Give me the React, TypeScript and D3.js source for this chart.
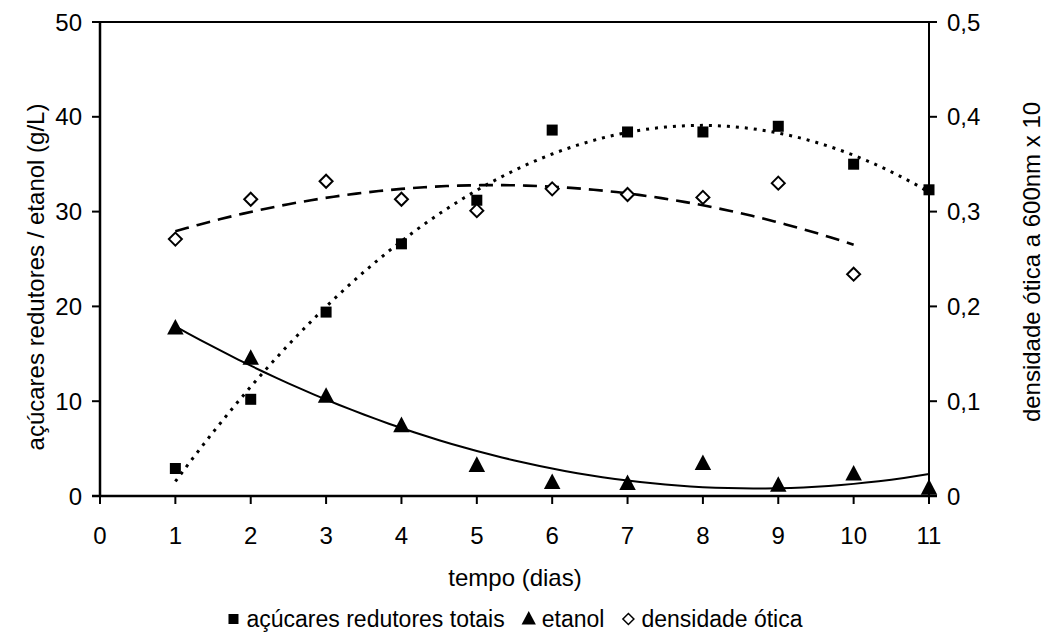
import React from "react";
import * as d3 from "d3";

// Fermentation time course: reducing sugars, ethanol (left axis, g/L) and optical density (right axis)
const dias = [1, 2, 3, 4, 5, 6, 7, 8, 9, 10, 11];
const acucares = [2.9, 10.2, 19.4, 26.6, 31.2, 38.6, 38.4, 38.4, 39.0, 35.0, 32.3];
const etanol = [17.7, 14.5, 10.5, 7.4, 3.2, 1.4, 1.3, 3.4, 1.1, 2.3, 0.8];
const diasDensidade = [1, 2, 3, 4, 5, 6, 7, 8, 9, 10];
const densidade = [0.271, 0.313, 0.332, 0.313, 0.301, 0.324, 0.318, 0.315, 0.330, 0.234];

const xTicks = [0, 1, 2, 3, 4, 5, 6, 7, 8, 9, 10, 11];
const yLeftTicks = [0, 10, 20, 30, 40, 50];
const yRightTicks = [0, 0.1, 0.2, 0.3, 0.4, 0.5];

const legendLabels = ["açúcares redutores totais", "etanol", "densidade ótica"];

const W = 1051;
const H = 640;
const M = { left: 100, right: 929, top: 22, bottom: 496 };
const FONT = "'Liberation Sans', Arial, sans-serif";
const FS = 24;
const LEGEND_FS = 23;

// Least-squares polynomial (order 2) trendline
function polyFit2(xs: number[], ys: number[]) {
  const n = xs.length;
  let s1 = 0, s2 = 0, s3 = 0, s4 = 0, t0 = 0, t1 = 0, t2 = 0;
  for (let i = 0; i < n; i++) {
    const x = xs[i], y = ys[i];
    s1 += x; s2 += x * x; s3 += x * x * x; s4 += x * x * x * x;
    t0 += y; t1 += x * y; t2 += x * x * y;
  }
  const A = [
    [n, s1, s2, t0],
    [s1, s2, s3, t1],
    [s2, s3, s4, t2],
  ];
  for (let c = 0; c < 3; c++) {
    let p = c;
    for (let r = c + 1; r < 3; r++) if (Math.abs(A[r][c]) > Math.abs(A[p][c])) p = r;
    [A[c], A[p]] = [A[p], A[c]];
    for (let r = 0; r < 3; r++) {
      if (r === c) continue;
      const f = A[r][c] / A[c][c];
      for (let k = c; k < 4; k++) A[r][k] -= f * A[c][k];
    }
  }
  const a0 = A[0][3] / A[0][0], a1 = A[1][3] / A[1][1], a2 = A[2][3] / A[2][2];
  return (x: number) => a0 + a1 * x + a2 * x * x;
}

function trendPoints(xs: number[], ys: number[]) {
  const f = polyFit2(xs, ys);
  const x0 = xs[0], x1 = xs[xs.length - 1];
  return d3.range(0, 61).map((i) => {
    const x = x0 + ((x1 - x0) * i) / 60;
    return [x, f(x)] as [number, number];
  });
}

function measure(text: string, size: number) {
  const c = document.createElement("canvas").getContext("2d");
  if (!c) return text.length * size * 0.5;
  c.font = `${size}px 'Liberation Sans', Arial, sans-serif`;
  return c.measureText(text).width;
}

const fmtRight = (v: number) => (v === 0 ? "0" : v.toFixed(1).replace(".", ","));

export default function App() {
  const x = d3.scaleLinear().domain([0, 11]).range([M.left, M.right]);
  const yL = d3.scaleLinear().domain([0, 50]).range([M.bottom, M.top]);
  const yR = d3.scaleLinear().domain([0, 0.5]).range([M.bottom, M.top]);

  const lineL = d3.line<[number, number]>().x((d) => x(d[0])).y((d) => yL(d[1]));
  const lineR = d3.line<[number, number]>().x((d) => x(d[0])).y((d) => yR(d[1]));

  const trendAcucares = trendPoints(dias, acucares);
  const trendEtanol = trendPoints(dias, etanol);
  const trendDensidade = trendPoints(diasDensidade, densidade);

  const sq = 11;
  const tri = (cx: number, cy: number, s: number) =>
    `M${cx},${cy - s * 0.62}L${cx + s * 0.55},${cy + s * 0.42}L${cx - s * 0.55},${cy + s * 0.42}Z`;
  const dia = (cx: number, cy: number, s: number) =>
    `M${cx},${cy - s}L${cx + s},${cy}L${cx},${cy + s}L${cx - s},${cy}Z`;

  // legend layout: symbol, gap, label, spacing — centred under the plot
  const legendY = 627;
  const symW = 12, symGap = 7, itemGap = 18;
  const widths = legendLabels.map((t) => measure(t, LEGEND_FS));
  const total = widths.reduce((s, w) => s + w, 0) + legendLabels.length * (symW + symGap) + itemGap * (legendLabels.length - 1);
  let cursor = 515 - total / 2;
  const legendItems = legendLabels.map((label, i) => {
    const sx = cursor + symW / 2;
    const tx = cursor + symW + symGap;
    cursor = tx + widths[i] + itemGap;
    return { label, sx, tx, i };
  });

  return (
    <svg width={W} height={H} style={{ position: "absolute", left: 0, top: 0, background: "#fff" }}>
      <rect width={W} height={H} fill="#fff" />

      {/* trendlines */}
      <path d={lineL(trendAcucares) || ""} fill="none" stroke="#000" strokeWidth={3} strokeDasharray="3,6" />
      <path d={lineL(trendEtanol) || ""} fill="none" stroke="#000" strokeWidth={2} />
      <path d={lineR(trendDensidade) || ""} fill="none" stroke="#000" strokeWidth={2.6} strokeDasharray="14,8" />

      {/* axes frame */}
      <line x1={M.left} x2={M.right} y1={M.top} y2={M.top} stroke="#000" strokeWidth={2} />
      <line x1={M.right} x2={M.right} y1={M.top} y2={M.bottom} stroke="#000" strokeWidth={2} />
      <line x1={M.left} x2={M.left} y1={M.top} y2={M.bottom} stroke="#000" strokeWidth={2.5} />
      <line x1={M.left - 8} x2={M.right + 8} y1={M.bottom} y2={M.bottom} stroke="#000" strokeWidth={2.5} />

      {xTicks.map((t) => (
        <g key={"x" + t}>
          <line x1={x(t)} x2={x(t)} y1={M.bottom} y2={M.bottom + 8} stroke="#000" strokeWidth={2} />
          <text x={x(t)} y={544} textAnchor="middle" fontFamily={FONT} fontSize={FS}>{t}</text>
        </g>
      ))}
      {yLeftTicks.map((t) => (
        <g key={"yl" + t}>
          <line x1={M.left - 8} x2={M.left} y1={yL(t)} y2={yL(t)} stroke="#000" strokeWidth={2} />
          <text x={82} y={yL(t) + 8.5} textAnchor="end" fontFamily={FONT} fontSize={FS}>{t}</text>
        </g>
      ))}
      {yRightTicks.map((t) => (
        <g key={"yr" + t}>
          <line x1={M.right} x2={M.right + 8} y1={yR(t)} y2={yR(t)} stroke="#000" strokeWidth={2} />
          <text x={947} y={yR(t) + 8.5} textAnchor="start" fontFamily={FONT} fontSize={FS}>{fmtRight(t)}</text>
        </g>
      ))}

      {/* markers */}
      {dias.map((d, i) => (
        <rect key={"a" + i} x={x(d) - sq / 2} y={yL(acucares[i]) - sq / 2} width={sq} height={sq} fill="#000" />
      ))}
      {dias.map((d, i) => (
        <path key={"e" + i} d={tri(x(d), yL(etanol[i]), 15)} fill="#000" />
      ))}
      {diasDensidade.map((d, i) => (
        <path key={"o" + i} d={dia(x(d), yR(densidade[i]), 6.5)} fill="#fff" stroke="#000" strokeWidth={2} />
      ))}

      {/* axis titles */}
      <text x={515} y={586} textAnchor="middle" fontFamily={FONT} fontSize={FS}>tempo (dias)</text>
      <text transform={`translate(44,277) rotate(-90)`} textAnchor="middle" fontFamily={FONT} fontSize={FS}>
        açúcares redutores / etanol (g/L)
      </text>
      <text transform={`translate(1040,262) rotate(-90)`} textAnchor="middle" fontFamily={FONT} fontSize={FS}>
        densidade ótica a 600nm x 10
      </text>

      {/* legend */}
      {legendItems.map((it) => (
        <g key={"lg" + it.i}>
          {it.i === 0 && <rect x={it.sx - 5} y={legendY - 13} width={10} height={10} fill="#000" />}
          {it.i === 1 && <path d={tri(it.sx, legendY - 8, 13)} fill="#000" />}
          {it.i === 2 && <path d={dia(it.sx, legendY - 8, 5.5)} fill="#fff" stroke="#000" strokeWidth={1.5} />}
          <text x={it.tx} y={legendY} fontFamily={FONT} fontSize={LEGEND_FS}>{it.label}</text>
        </g>
      ))}
    </svg>
  );
}
